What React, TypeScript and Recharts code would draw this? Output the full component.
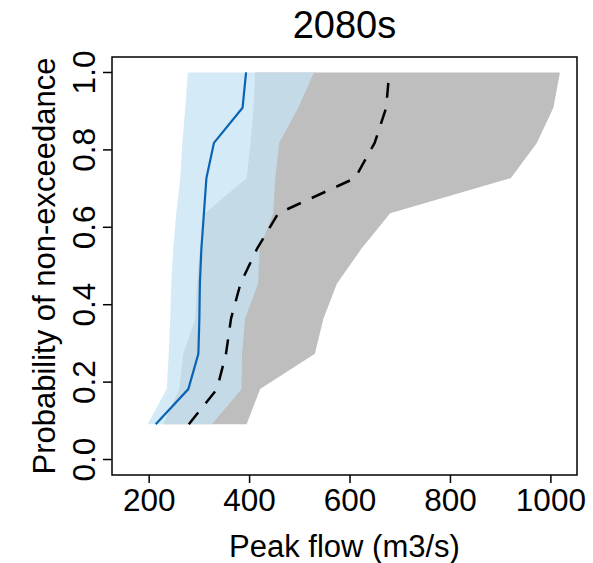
import React from 'react';
import { ComposedChart, Area, Line, XAxis, YAxis, ReferenceArea } from 'recharts';

// Probability levels (plotting positions)
const probs = [0.091, 0.182, 0.273, 0.364, 0.455, 0.545, 0.636, 0.727, 0.818, 0.909, 1.0];

// Light-blue band (lower / upper) and its median line
const blueLow = [197, 235, 239, 242, 244, 248, 254, 262, 266, 272, 277];
const blueHigh = [325, 384, 385, 391, 417, 420, 447, 451, 459, 497, 528];
const blueMed = [213, 278, 298, 300, 301, 304, 309, 314, 329, 386, 393];

// Grey band (lower / upper) and its median line
const grayLow = [228, 260, 268, 292, 295, 301, 311, 394, 402, 408, 411];
const grayHigh = [394, 421, 530, 547, 574, 623, 680, 920, 972, 1005, 1018];
const grayMed = [279, 335, 353, 363, 382, 415, 457, 610, 649, 672, 678];

const xTicks = [200, 400, 600, 800, 1000];
const yTicks = [0, 0.2, 0.4, 0.6, 0.8, 1.0];

const title = '2080s';
const xLabel = 'Peak flow (m3/s)';
const yLabel = 'Probability of non-exceedance';

const X_DOMAIN: [number, number] = [126, 1052];
const Y_DOMAIN: [number, number] = [-0.04, 1.04];

const FONT = '"Liberation Sans", Arial, Helvetica, sans-serif';

const data = probs.map((p, i) => ({
  p,
  blueBand: [blueLow[i], blueHigh[i]],
  grayBand: [grayLow[i], grayHigh[i]],
  blueMed: blueMed[i],
  grayMed: grayMed[i],
}));

const XTick = (props: any) => {
  const { x, y, payload } = props;
  return (
    <text x={x} y={y + 26} textAnchor="middle" fontSize={31.5} fontFamily={FONT} fill="#000">
      {String(payload.value)}
    </text>
  );
};

const YTick = (props: any) => {
  const { x, y, payload } = props;
  const tx = x - 6;
  return (
    <text
      x={tx}
      y={y}
      transform={`rotate(-90, ${tx}, ${y})`}
      textAnchor="middle"
      fontSize={31.5}
      fontFamily={FONT}
      fill="#000"
    >
      {Number(payload.value).toFixed(1)}
    </text>
  );
};

export default function App() {
  return (
    <div style={{ position: 'absolute', left: 0, top: 0, width: 593, height: 563, background: '#fff' }}>
      <ComposedChart
        width={593}
        height={563}
        layout="vertical"
        data={data}
        margin={{ top: 57, right: 16, bottom: 0, left: 0 }}
      >
        <XAxis
          type="number"
          domain={X_DOMAIN}
          ticks={xTicks}
          allowDataOverflow
          height={88}
          axisLine={false}
          tickLine={{ stroke: '#000', strokeWidth: 1.5 }}
          tickSize={8}
          tick={<XTick />}
          interval={0}
        />
        <YAxis
          type="number"
          dataKey="p"
          domain={Y_DOMAIN}
          ticks={yTicks}
          reversed
          allowDataOverflow
          width={112}
          axisLine={false}
          tickLine={{ stroke: '#000', strokeWidth: 1.5 }}
          tickSize={9}
          tick={<YTick />}
          interval={0}
        />
        <Area
          dataKey="grayBand"
          type="linear"
          fill="#bebebe"
          fillOpacity={1}
          stroke="none"
          dot={false}
          activeDot={false}
          isAnimationActive={false}
        />
        <Area
          dataKey="blueBand"
          type="linear"
          fill="#c5e3f3"
          fillOpacity={0.75}
          stroke="none"
          dot={false}
          activeDot={false}
          isAnimationActive={false}
        />
        <Line
          dataKey="blueMed"
          type="linear"
          stroke="#0a64b4"
          strokeWidth={2.2}
          dot={false}
          activeDot={false}
          isAnimationActive={false}
        />
        <Line
          dataKey="grayMed"
          type="linear"
          stroke="#000"
          strokeWidth={2.5}
          strokeDasharray="15 12"
          dot={false}
          activeDot={false}
          isAnimationActive={false}
        />
        <ReferenceArea
          x1={X_DOMAIN[0]}
          x2={X_DOMAIN[1]}
          y1={Y_DOMAIN[0]}
          y2={Y_DOMAIN[1]}
          fill="none"
          fillOpacity={0}
          stroke="#000"
          strokeWidth={1.5}
          ifOverflow="visible"
        />
      </ComposedChart>
      <svg
        width={593}
        height={563}
        style={{ position: 'absolute', left: 0, top: 0, pointerEvents: 'none' }}
      >
        <text x={344.5} y={38} textAnchor="middle" fontSize={38} fontFamily={FONT} fill="#000">
          {title}
        </text>
        <text x={344.5} y={557} textAnchor="middle" fontSize={31} fontFamily={FONT} fill="#000">
          {xLabel}
        </text>
        <text
          x={55}
          y={266}
          transform="rotate(-90, 55, 266)"
          textAnchor="middle"
          fontSize={31}
          fontFamily={FONT}
          fill="#000"
        >
          {yLabel}
        </text>
      </svg>
    </div>
  );
}
